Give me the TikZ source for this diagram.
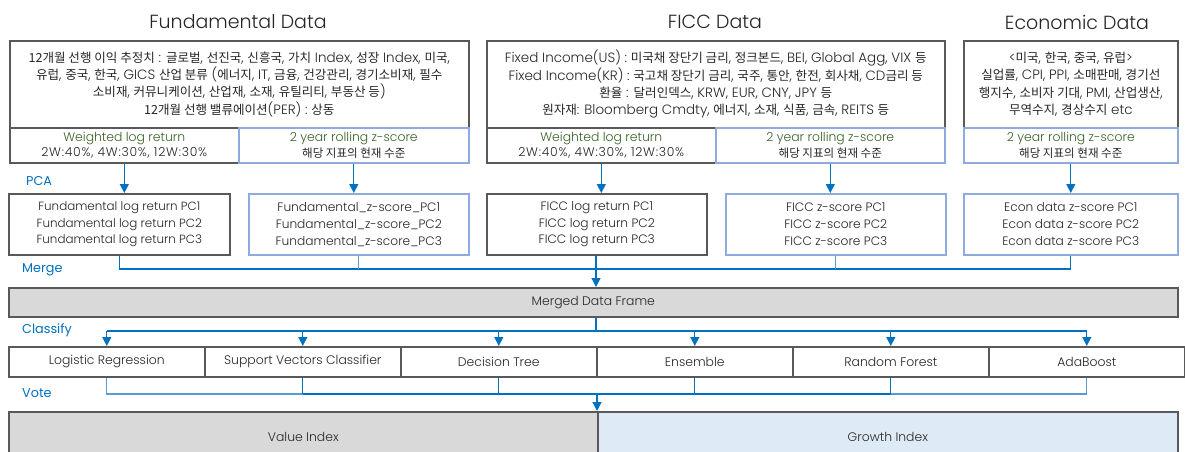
\documentclass[tikz,border=0pt]{standalone}
\usepackage{fontspec}
\usepackage{xcolor}
\usepackage{tikz}
\usetikzlibrary{arrows.meta,positioning,calc}

\IfFontExistsTF{Poppins Light}{\setmainfont{Poppins Light}[BoldFont=Poppins]}{\setmainfont{Poppins}}
\newfontfamily\labelfont{Poppins}
\newfontfamily\krfont{Noto Sans CJK KR}[Scale=0.93]
\newcommand{\kr}[1]{{\krfont #1}}
\newcommand{\wide}[1]{{\addfontfeature{LetterSpace=6}#1}}

\definecolor{boxgray}{RGB}{89,89,89}
\definecolor{boxblue}{RGB}{143,170,220}
\definecolor{linkblue}{RGB}{0,112,192}
\definecolor{lightlink}{RGB}{91,155,213}
\definecolor{labelblue}{RGB}{0,112,192}
\definecolor{greentext}{RGB}{56,98,38}
\definecolor{framegray}{RGB}{217,217,217}
\definecolor{growthfill}{RGB}{222,234,246}
\definecolor{textgray}{RGB}{38,38,38}

\begin{document}
\begin{tikzpicture}[
    x=1pt, y=-1pt,
    headtext/.style={font=\fontsize{19}{22}\selectfont, text=textgray},
    srcbox/.style={draw=boxgray, line width=1.6pt, fill=white, anchor=north west, align=center,
        inner sep=0pt, text=textgray, font=\fontsize{13.5}{17.2}\selectfont},
    darkbox/.style={srcbox},
    bluebox/.style={srcbox, draw=boxblue},
    subbox/.style={minimum height=35, font=\fontsize{12.4}{15.5}\selectfont},
    pcbox/.style={minimum height=61, font=\fontsize{12.2}{16.8}\selectfont},
    framebox/.style={srcbox, fill=framegray, font=\fontsize{12.4}{14}\selectfont},
    clsbox/.style={srcbox, minimum width=196, minimum height=30, font=\fontsize{12.4}{14}\selectfont},
    steplabel/.style={anchor=west, inner sep=0pt, text=labelblue, font=\labelfont\fontsize{12.8}{14}\selectfont},
    conn/.style={draw=linkblue, line width=1.2pt},
    lightconn/.style={draw=lightlink, line width=1.2pt},
    arr/.style={conn, -{Triangle[width=9pt,length=9pt]}}
]
\useasboundingbox (0,0) rectangle (1185,452);

% Titles
\node[headtext] (fundtitle) at (238,22) {Fundamental Data};
\node[headtext] (ficctitle) at (715,22) {FICC Data};
\node[headtext] (econtitle) at (1077,22) {Economic Data};

% Source boxes
\node[darkbox, minimum width=459, minimum height=87] (fundsrc) at (9,40) {\kr{12개월 선행 이익 추정치} : \kr{글로벌}, \kr{선진국}, \kr{신흥국}, \kr{가치} Index, \kr{성장} Index, \kr{미국},\\
\kr{유럽}, \kr{중국}, \kr{한국}, GICS \kr{산업 분류} (\kr{에너지}, IT, \kr{금융}, \kr{건강관리}, \kr{경기소비재}, \kr{필수}\\
\kr{소비재}, \kr{커뮤니케이션}, \kr{산업재}, \kr{소재}, \kr{유틸리티}, \kr{부동산 등})\\
\kr{12개월 선행 밸류에이션}(PER) : \kr{상동}};
\node[darkbox, minimum width=458, minimum height=87] (ficcsrc) at (486,40) {Fixed Income(US) : \kr{미국채 장단기 금리}, \kr{정크본드}, BEI, Global Agg, VIX \kr{등}\\
Fixed Income(KR) : \kr{국고채 장단기 금리}, \kr{국주}, \kr{통안}, \kr{한전}, \kr{회사채}, CD\kr{금리 등}\\
\kr{환율} : \kr{달러인덱스}, KRW, EUR, CNY, JPY \kr{등}\\
\kr{원자재}: Bloomberg Cmdty, \kr{에너지}, \kr{소재}, \kr{식품}, \kr{금속}, REITS \kr{등}};
\node[darkbox, minimum width=214, minimum height=87] (econsrc) at (963,40) {<\kr{미국}, \kr{한국}, \kr{중국}, \kr{유럽}>\\
\kr{실업률}, CPI, PPI, \kr{소매판매}, \kr{경기선}\\
\kr{행지수}, \kr{소비자 기대}, PMI, \kr{산업생산},\\
\kr{무역수지}, \kr{경상수지} etc};

% Transform boxes
\node[darkbox, subbox, minimum width=229] (fundlog) at (9,127) {\textcolor{greentext}{Weighted log return}\\ \wide{2W:40\%, 4W:30\%, 12W:30\%}};
\node[bluebox, subbox, minimum width=230] (fundz) at (238,127) {\textcolor{greentext}{2 year rolling z-score}\\ \kr{해당 지표의 현재 수준}};
\node[darkbox, subbox, minimum width=229] (ficclog) at (486,127) {\textcolor{greentext}{Weighted log return}\\ \wide{2W:40\%, 4W:30\%, 12W:30\%}};
\node[bluebox, subbox, minimum width=229] (ficcz) at (715,127) {\textcolor{greentext}{2 year rolling z-score}\\ \kr{해당 지표의 현재 수준}};
\node[bluebox, subbox, minimum width=214] (econz) at (963,127) {\textcolor{greentext}{2 year rolling z-score}\\ \kr{해당 지표의 현재 수준}};

% PCA outputs
\node[darkbox, pcbox, minimum width=221, font=\fontsize{11.9}{16.8}\selectfont] (fundpc) at (8,193) {Fundamental log return PC1\\ Fundamental log return PC2\\ Fundamental log return PC3};
\node[bluebox, pcbox, minimum width=220] (fundzpc) at (248,193) {Fundamental\_z-score\_PC1\\ Fundamental\_z-score\_PC2\\ Fundamental\_z-score\_PC3};
\node[darkbox, pcbox, minimum width=220] (ficcpc) at (486,193) {FICC log return PC1\\ FICC log return PC2\\ FICC log return PC3};
\node[bluebox, pcbox, minimum width=220] (ficczpc) at (725,193) {FICC z-score PC1\\ FICC z-score PC2\\ FICC z-score PC3};
\node[bluebox, pcbox, minimum width=214] (econpc) at (963,193) {Econ data z-score PC1\\ Econ data z-score PC2\\ Econ data z-score PC3};

% Merged frame, classifiers, result
\node[framebox, minimum width=1169, minimum height=29] (frame) at (8,287) {Merged Data Frame};
\foreach \name [count=\i from 0] in {Logistic Regression, Support Vectors Classifier, Decision Tree, Ensemble, Random Forest, AdaBoost}
    \node[clsbox] (cls\i) at (8+196*\i,346) {\name};
\node[framebox, minimum width=589, minimum height=50] (value) at (8,411) {Value Index};
\node[framebox, fill=growthfill, minimum width=580, minimum height=50] (growth) at (597,411) {Growth Index};

% Step labels
\node[steplabel] (pcalabel) at (26,181) {PCA};
\node[steplabel] (mergelabel) at (22,270) {Merge};
\node[steplabel] (classlabel) at (22,330) {Classify};
\node[steplabel] (votelabel) at (22,393) {Vote};

% PCA arrows
\foreach \src/\dst in {fundlog/fundpc, fundz/fundzpc, ficclog/ficcpc, ficcz/ficczpc, econz/econpc}
    \draw[arr] (\src.south) -- (\src.south |- \dst.north);

% Merge
\coordinate (mergejoin) at (596,269);
\draw[conn] (fundpc.south) -- (fundpc.south |- mergejoin) -- (econpc.south |- mergejoin) -- (econpc.south);
\foreach \n in {fundzpc, ficczpc}
    \draw[lightconn] (\n.south) -- (\n.south |- mergejoin);
\draw[arr] (ficcpc.south -| mergejoin) -- (mergejoin |- frame.north);

% Classify
\coordinate (classjoin) at (596,331);
\draw[conn] (classjoin |- frame.south) -- (classjoin);
\draw[conn] (cls0.north |- classjoin) -- (cls5.north |- classjoin);
\foreach \i in {0,...,5}
    \draw[arr] (cls\i.north |- classjoin) -- (cls\i.north);

% Vote
\coordinate (votejoin) at (597,394);
\draw[lightconn] (cls0.south) |- (cls1.south |- votejoin);
\draw[lightconn] (cls5.south) |- (cls4.south |- votejoin);
\draw[conn] (cls1.south |- votejoin) -- (cls4.south |- votejoin);
\foreach \i in {1,...,4}
    \draw[conn] (cls\i.south) -- (cls\i.south |- votejoin);
\draw[arr] (votejoin) -- (votejoin |- value.north);

\end{tikzpicture}
\end{document}
